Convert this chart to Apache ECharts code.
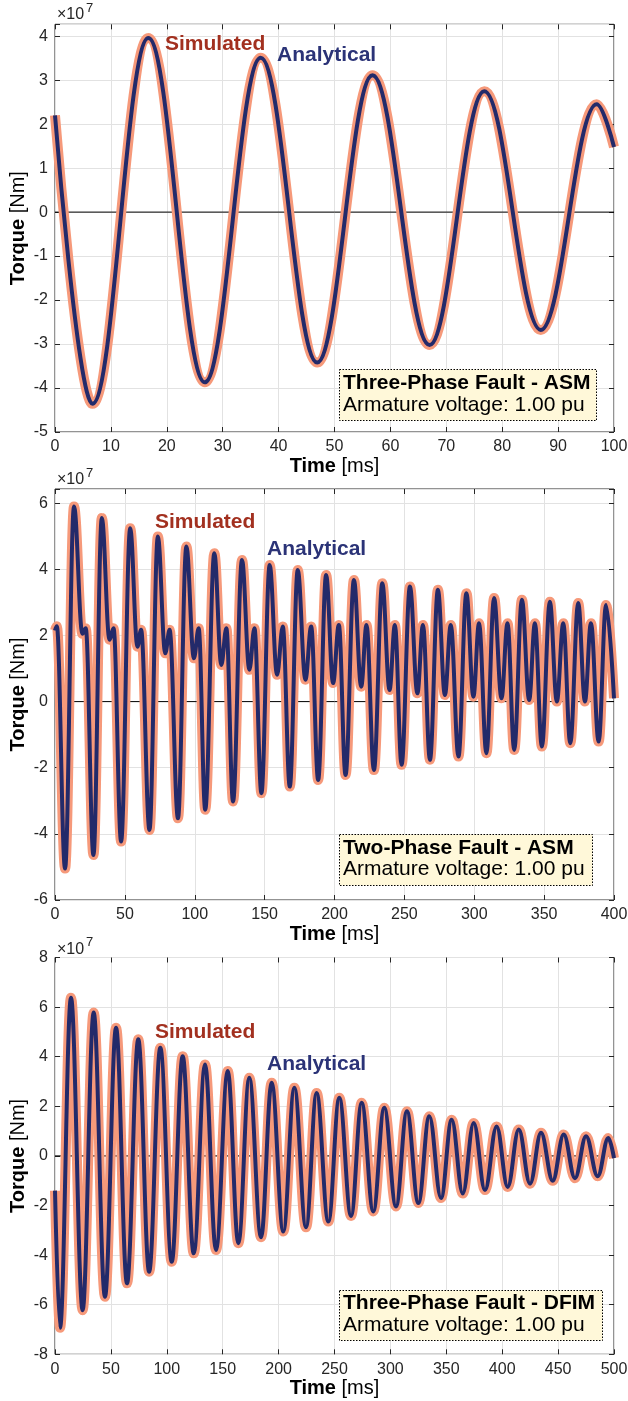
<!DOCTYPE html>
<html>
<head>
<meta charset="utf-8">
<script src="https://cdn.jsdelivr.net/npm/echarts@6/dist/echarts.min.js"></script>
<style>
html, body { margin: 0; padding: 0; background: #fff; }
#chart { width: 628px; height: 1401px; }
</style>
</head>
<body>
<div id="chart"></div>
<script>
// values: time in ms, torque in 1e7 Nm (turning points of the waveforms)
// simulated and analytical curves lie on top of each other, so both use the same points

// three-phase fault - ASM
var t1 = [0, 6.7, 16.7, 26.8, 36.8, 46.9, 56.8, 67.0, 76.8, 86.9, 96.9, 100];
var torque1 = [2.2, -4.36, 3.96, -3.87, 3.51, -3.42, 3.11, -3.02, 2.75, -2.68, 2.45, 1.48];

// two-phase fault - ASM
var t2 = [0, 1.3,
    7.2, 13.6, 19.6, 22.0,
    27.5, 33.5, 39.0, 41.9,
    47.3, 53.8, 59.0, 61.6,
    67.6, 73.6, 78.9, 82.0,
    88.0, 94.0, 99.4, 102.8,
    107.5, 114.0, 119.0, 122.6,
    127.4, 133.8, 139.1, 142.7,
    147.7, 153.6, 158.9, 163.0,
    168.0, 173.7, 179.2, 183.3,
    188.3, 194.0, 199.0, 203.1,
    207.9, 213.9, 219.1, 222.9,
    228.2, 234.2, 239.4, 243.2,
    248.0, 254.0, 259.3, 263.3,
    268.3, 274.0, 279.0, 283.2,
    288.7, 294.4, 299.4, 303.4,
    308.7, 314.2, 319.5, 323.8,
    328.6, 334.1, 339.3, 343.4,
    348.4, 354.1, 359.1, 363.7,
    368.7, 374.4, 379.2, 383.5,
    389.0, 394.3, 400];
var torque2 = [2.15, 2.28,
    -5.05, 5.90, 2.05, 2.22,
    -4.64, 5.55, 1.87, 2.22,
    -4.23, 5.24, 1.66, 2.17,
    -3.88, 4.99, 1.46, 2.17,
    -3.53, 4.69, 1.31, 2.22,
    -3.27, 4.49, 1.11, 2.22,
    -3.02, 4.28, 0.96, 2.22,
    -2.77, 4.13, 0.81, 2.27,
    -2.57, 3.98, 0.66, 2.27,
    -2.37, 3.83, 0.56, 2.32,
    -2.22, 3.68, 0.45, 2.32,
    -2.07, 3.58, 0.35, 2.32,
    -1.91, 3.48, 0.25, 2.32,
    -1.76, 3.38, 0.20, 2.32,
    -1.66, 3.28, 0.15, 2.37,
    -1.56, 3.13, 0.10, 2.37,
    -1.46, 3.08, 0.05, 2.37,
    -1.36, 3.02, 0.00, 2.37,
    -1.26, 2.98, 0.00, 2.37,
    -1.21, 2.92, 0.10];

// three-phase fault - DFIM
var t3 = [0, 4.5, 14.3, 24.7, 34.6, 44.7, 54.6, 64.4, 74.5, 84.2, 94.2,
    104.4, 114.2, 124.1, 134.2, 144.0, 154.5, 164.0, 173.8, 184.3, 193.8,
    204.2, 214.1, 224.5, 234.0, 244.5, 254.3, 264.8, 274.3, 284.7, 294.5,
    305.0, 314.8, 325.0, 334.8, 345.3, 354.8, 364.7, 374.5, 384.6, 395.0,
    404.9, 414.8, 424.9, 434.7, 445.2, 455.0, 465.1, 475.0, 485.4, 494.9, 500];
var torque3 = [-1.4, -6.93, 6.38, -6.22, 5.78, -5.68, 5.17, -5.14, 4.70, -4.67, 4.36,
    -4.27, 4.02, -3.93, 3.69, -3.79, 3.42, -3.52, 3.15, -3.28, 2.95,
    -3.05, 2.75, -2.88, 2.54, -2.65, 2.34, -2.42, 2.14, -2.24, 1.94,
    -2.04, 1.80, -1.90, 1.60, -1.70, 1.46, -1.52, 1.33, -1.38, 1.19,
    -1.25, 1.06, -1.12, 0.93, -1.00, 0.86, -0.90, 0.79, -0.82, 0.72, -0.09];

var faultNames = ['Three-Phase Fault - ASM', 'Two-Phase Fault - ASM', 'Three-Phase Fault - DFIM'];
var voltageText = 'Armature voltage: 1.00 pu';

var FONT = '"Liberation Sans", Arial, Helvetica, sans-serif';
var SIM_COLOR = '#F6997A';
var ANA_COLOR = '#232A6A';
var AX_COLOR = '#262626';

var chart = echarts.init(document.getElementById('chart'), null, {renderer: 'canvas'});

var plots = [
    {t: t1, v: torque1, xMax: 100, xStep: 10, yMin: -5, yMax: 4.27, yStep: 1, top: 24.3, height: 407.7},
    {t: t2, v: torque2, xMax: 400, xStep: 50, yMin: -6, yMax: 6.43, yStep: 2, top: 489, height: 411},
    {t: t3, v: torque3, xMax: 500, xStep: 50, yMin: -8, yMax: 8, yStep: 2, top: 957.5, height: 396.8}
];

function pairs(t, v) {
    return t.map(function (x, i) { return [x, v[i]]; });
}

var grids = [], xAxes = [], yAxes = [], series = [];
plots.forEach(function (p, i) {
    grids.push({
        left: 55, width: 559, top: p.top, height: p.height,
        outerBoundsMode: 'none', containLabel: false,
        show: true, borderColor: AX_COLOR, borderWidth: 1, backgroundColor: 'transparent'
    });
    xAxes.push({
        type: 'value', gridIndex: i, min: 0, max: p.xMax, interval: p.xStep, position: 'bottom',
        axisLine: {show: false, onZero: false},
        axisTick: {inside: true, length: 5, lineStyle: {color: AX_COLOR}},
        axisLabel: {color: AX_COLOR, fontSize: 16, fontFamily: FONT, margin: 7},
        splitLine: {show: true, lineStyle: {color: '#e2e2e2', width: 1}},
        name: '{b|Time} [ms]', nameLocation: 'middle', nameGap: 24, nameMoveOverlap: false,
        nameTextStyle: {
            color: '#000', fontSize: 20, fontFamily: FONT,
            rich: {b: {fontWeight: 'bold', fontSize: 20, fontFamily: FONT, color: '#000'}}
        }
    });
    xAxes.push({
        type: 'value', gridIndex: i, min: 0, max: p.xMax, interval: p.xStep, position: 'top',
        axisLine: {show: false, onZero: false},
        axisTick: {inside: true, length: 5, lineStyle: {color: AX_COLOR}},
        axisLabel: {show: false}, splitLine: {show: false}
    });
    yAxes.push({
        type: 'value', gridIndex: i, min: p.yMin, max: p.yMax, interval: p.yStep, position: 'left',
        axisLine: {show: false, onZero: false},
        axisTick: {inside: true, length: 5, lineStyle: {color: AX_COLOR}},
        axisLabel: {
            color: AX_COLOR, fontSize: 16, fontFamily: FONT, margin: 7,
            formatter: function (v) { return Math.abs(v - Math.round(v)) < 1e-9 ? String(Math.round(v)) : ''; }
        },
        splitLine: {show: true, lineStyle: {color: '#e2e2e2', width: 1}},
        name: '{b|Torque} [Nm]', nameLocation: 'middle', nameGap: 27, nameMoveOverlap: false,
        nameTextStyle: {
            color: '#000', fontSize: 20, fontFamily: FONT,
            rich: {b: {fontWeight: 'bold', fontSize: 20, fontFamily: FONT, color: '#000'}}
        }
    });
    yAxes.push({
        type: 'value', gridIndex: i, min: p.yMin, max: p.yMax, interval: p.yStep, position: 'right',
        axisLine: {show: false, onZero: false},
        axisTick: {inside: true, length: 5, lineStyle: {color: AX_COLOR}},
        axisLabel: {show: false}, splitLine: {show: false}
    });

    var data = pairs(p.t, p.v);
    // zero reference line across the axis range
    series.push({
        type: 'line', xAxisIndex: i * 2, yAxisIndex: i * 2, silent: true, z: 1,
        data: [[0, 0], [p.xMax, 0]], symbol: 'none',
        lineStyle: {color: '#000', width: 1}
    });
    series.push({
        name: 'Simulated', type: 'line', xAxisIndex: i * 2, yAxisIndex: i * 2, z: 3,
        data: data, smooth: 0.38, smoothMonotone: 'x', symbol: 'none', clip: false,
        lineStyle: {color: SIM_COLOR, width: 10}
    });
    series.push({
        name: 'Analytical', type: 'line', xAxisIndex: i * 2, yAxisIndex: i * 2, z: 4,
        data: data, smooth: 0.38, smoothMonotone: 'x', symbol: 'none', clip: false,
        lineStyle: {color: ANA_COLOR, width: 4}
    });
});

function txt(x, y, s, font, color) {
    return {
        type: 'text', x: x, y: y, z: 100, silent: true,
        style: {text: s, font: font, fill: color, textAlign: 'left', textVerticalAlign: 'middle', align: 'left', verticalAlign: 'middle'}
    };
}

var boldF = 'bold 21px ' + FONT;
var regF = '21px ' + FONT;
var graphics = [];
// exponent labels
[[15, 8], [480, 473], [950, 942]].forEach(function (e) {
    graphics.push(txt(57, e[0], '×10', '16px ' + FONT, AX_COLOR));
    graphics.push(txt(86, e[1], '7', '13px ' + FONT, AX_COLOR));
});
// curve labels
[[165, 44, 277, 55], [155, 522, 267, 549], [155, 1032, 267, 1064]].forEach(function (e) {
    graphics.push(txt(e[0], e[1], 'Simulated', boldF, '#A2301F'));
    graphics.push(txt(e[2], e[3], 'Analytical', boldF, '#2B3377'));
});
// info boxes
var boxes = [
    {x: 339, y: 369, w: 257, h: 51, l1: 383.5, l2: 405},
    {x: 339, y: 834, w: 253, h: 51, l1: 848.5, l2: 869.5},
    {x: 339, y: 1290, w: 263, h: 50, l1: 1303.5, l2: 1325.5}
];
boxes.forEach(function (b, i) {
    graphics.push({
        type: 'rect', z: 90, silent: true,
        shape: {x: b.x + 0.5, y: b.y + 0.5, width: b.w, height: b.h},
        style: {fill: '#FFF8D9', stroke: '#000', lineWidth: 1, lineDash: [1.5, 1.5]}
    });
    graphics.push(txt(b.x + 4, b.l1, faultNames[i], boldF, '#000'));
    graphics.push(txt(b.x + 4, b.l2, voltageText, regF, '#000'));
});

chart.setOption({
    animation: false,
    backgroundColor: '#fff',
    grid: grids,
    xAxis: xAxes,
    yAxis: yAxes,
    series: series,
    graphic: graphics
});
</script>
</body>
</html>
